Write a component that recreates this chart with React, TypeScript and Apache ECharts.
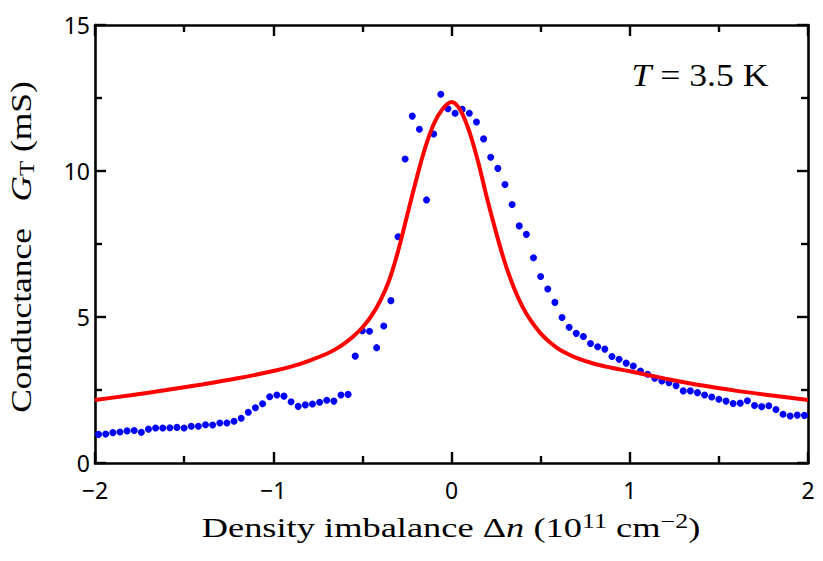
import { useEffect, useRef } from 'react';
import * as echarts from 'echarts';

// Measured tunnelling conductance (mS) against density imbalance (1e11 cm^-2)
const densityImbalance = [
  -1.98, -1.94, -1.9, -1.86, -1.82, -1.78, -1.74, -1.7, -1.66, -1.62,
  -1.58, -1.54, -1.5, -1.46, -1.42, -1.38, -1.34, -1.3, -1.26, -1.22,
  -1.18, -1.14, -1.1, -1.06, -1.02, -0.98, -0.94, -0.9, -0.86, -0.82,
  -0.78, -0.74, -0.7, -0.66, -0.62, -0.58, -0.54, -0.5, -0.46, -0.42,
  -0.38, -0.34, -0.3, -0.26, -0.22, -0.18, -0.14, -0.1, -0.06, -0.02,
  0.02, 0.06, 0.1, 0.14, 0.18, 0.22, 0.26, 0.3, 0.34, 0.38,
  0.42, 0.46, 0.5, 0.54, 0.58, 0.62, 0.66, 0.7, 0.74, 0.78,
  0.82, 0.86, 0.9, 0.94, 0.98, 1.02, 1.06, 1.1, 1.14, 1.18,
  1.22, 1.26, 1.3, 1.34, 1.38, 1.42, 1.46, 1.5, 1.54, 1.58,
  1.62, 1.66, 1.7, 1.74, 1.78, 1.82, 1.86, 1.9, 1.94, 1.98,
];

const measuredConductance = [
  0.98, 0.99, 1.04, 1.06, 1.1, 1.11, 1.05, 1.16, 1.2, 1.2,
  1.21, 1.22, 1.2, 1.26, 1.26, 1.31, 1.3, 1.37, 1.37, 1.43,
  1.53, 1.74, 1.89, 2.03, 2.27, 2.33, 2.29, 2.1, 1.94, 1.99,
  2.02, 2.08, 2.15, 2.12, 2.33, 2.35, 3.66, 4.53, 4.51, 3.95,
  4.69, 5.56, 7.75, 10.41, 11.88, 11.43, 9.01, 11.27, 12.63, 12.13,
  11.98, 12.11, 11.98, 11.68, 11.1, 10.47, 10.09, 9.54, 8.85, 8.12,
  7.83, 7.03, 6.39, 5.96, 5.5, 4.98, 4.65, 4.44, 4.33, 4.09,
  3.98, 3.9, 3.65, 3.55, 3.42, 3.32, 3.15, 3.04, 2.9, 2.81,
  2.75, 2.65, 2.47, 2.47, 2.41, 2.33, 2.26, 2.18, 2.12, 2.04,
  2.05, 2.13, 1.97, 1.93, 1.96, 1.83, 1.67, 1.61, 1.64, 1.63,
];

// Theoretical curve
const theoryDensity = [
  -2.0, -1.8, -1.6, -1.4, -1.2, -1.0, -0.9, -0.8, -0.7, -0.65,
  -0.6, -0.55, -0.5, -0.45, -0.4, -0.35, -0.3, -0.25, -0.2, -0.15,
  -0.1, -0.05, 0, 0.05, 0.1, 0.15, 0.2, 0.25, 0.3, 0.35,
  0.4, 0.45, 0.5, 0.55, 0.6, 0.65, 0.7, 0.8, 0.9, 1.0,
  1.2, 1.4, 1.6, 1.8, 2.0,
];
const theoryConductance = [
  2.16, 2.32, 2.5, 2.69, 2.9, 3.15, 3.3, 3.5, 3.74, 3.9,
  4.1, 4.34, 4.64, 5.03, 5.55, 6.25, 7.25, 8.45, 9.65, 10.75,
  11.6, 12.12, 12.36, 12.08, 11.35, 10.3, 9.05, 7.9, 6.85, 6.0,
  5.33, 4.83, 4.44, 4.14, 3.91, 3.74, 3.6, 3.4, 3.26, 3.14,
  2.89, 2.66, 2.47, 2.31, 2.16,
];

const xTicks = { min: -2, max: 2, interval: 1 };
const yTicks = { min: 0, max: 15, interval: 5 };
const annotationText = '{i|T}{r| = 3.5 K}';

const SERIF = '"Liberation Serif", "Times New Roman", serif';
const SANS = '"Noto Sans", "DejaVu Sans", sans-serif';

const minusFormat = (v: number) => (v < 0 ? '\u2212' + Math.abs(v) : String(v));

function frameAxis(position: string, range: { min: number; max: number; interval: number }, showLabels: boolean) {
  return {
    type: 'value',
    position,
    min: range.min,
    max: range.max,
    interval: range.interval,
    axisLine: { show: true, onZero: false, lineStyle: { color: '#000', width: 2.6 } },
    axisTick: { show: true, inside: true, length: 11, lineStyle: { color: '#000', width: 2.4 } },
    minorTick: { show: true, splitNumber: 2, length: 7, lineStyle: { color: '#000', width: 2.4 } },
    splitLine: { show: false },
    axisLabel: {
      show: showLabels,
      formatter: minusFormat,
      fontFamily: SANS,
      fontSize: 23,
      lineHeight: 20,
      color: '#000',
      showMinLabel: true,
      showMaxLabel: true,
    },
  };
}

export default function App() {
  const ref = useRef<HTMLDivElement>(null);

  useEffect(() => {
    const chart = echarts.init(ref.current!, undefined, { renderer: 'svg' });

    const xBottom: any = frameAxis('bottom', xTicks, true);
    xBottom.axisLabel.margin = 17;
    const yLeft: any = frameAxis('left', yTicks, true);
    yLeft.axisLabel.margin = 5;

    const serifRich = (size: number) => ({
      r: { fontFamily: SERIF, fontSize: size, color: '#000', lineHeight: 34 },
      i: { fontFamily: SERIF, fontSize: size, fontStyle: 'italic', color: '#000', lineHeight: 34 },
      sup: { fontFamily: SERIF, fontSize: Math.round(size * 0.7), color: '#000', verticalAlign: 'top', lineHeight: 34 },
      sub: { fontFamily: SERIF, fontSize: Math.round(size * 0.7), color: '#000', verticalAlign: 'bottom', lineHeight: 34 },
    });

    chart.setOption({
      animation: false,
      backgroundColor: '#fff',
      grid: { left: 95, right: 15, top: 25, bottom: 98, containLabel: false },
      xAxis: [xBottom, frameAxis('top', xTicks, false)],
      yAxis: [yLeft, frameAxis('right', yTicks, false)],
      series: [
        {
          type: 'scatter',
          xAxisIndex: 0,
          yAxisIndex: 0,
          symbol: 'circle',
          symbolSize: 7,
          itemStyle: { color: '#0000ff', opacity: 1 },
          data: densityImbalance.map((x, i) => [x, measuredConductance[i]]),
        },
        {
          type: 'line',
          xAxisIndex: 0,
          yAxisIndex: 0,
          showSymbol: false,
          smooth: 0.35,
          lineStyle: { color: '#ff0000', width: 4 },
          data: theoryDensity.map((x, i) => [x, theoryConductance[i]]),
        },
      ],
      graphic: [
        {
          type: 'text',
          x: 451,
          y: 528,
          scaleX: 1.3,
          style: {
            text: '{r|Density imbalance }{r|\u0394}{i|n}{r| (10}{sup|11}{r| cm}{sup|\u22122}{r|)}',
            rich: serifRich(28),
            align: 'center',
            verticalAlign: 'middle',
          },
        },
        {
          type: 'text',
          x: 21,
          y: 247,
          rotation: Math.PI / 2,
          scaleX: 1.18,
          style: {
            text: '{r|Conductance   }{i|G}{sub|T}{r| (mS)}',
            rich: serifRich(30),
            align: 'center',
            verticalAlign: 'middle',
          },
        },
        {
          type: 'text',
          x: 700,
          y: 75,
          scaleX: 1.15,
          style: {
            text: annotationText,
            rich: serifRich(31),
            align: 'center',
            verticalAlign: 'middle',
          },
        },
      ],
    });

    return () => chart.dispose();
  }, []);

  return (
    <div
      ref={ref}
      style={{ position: 'fixed', left: 0, top: 0, width: 823, height: 561, background: '#fff' }}
    />
  );
}
